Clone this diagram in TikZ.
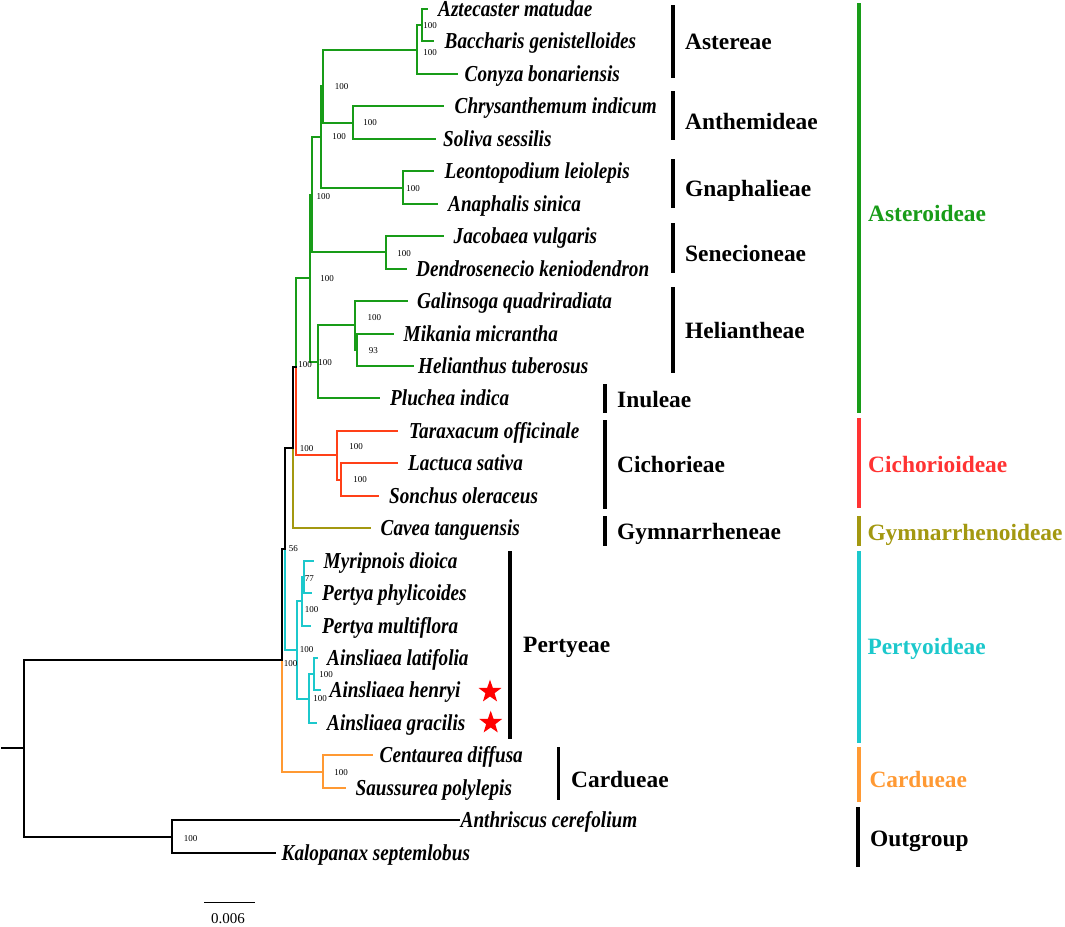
\documentclass[tikz,border=0pt]{standalone}
\usepackage{fontspec}
\setmainfont{Liberation Serif}
\newfontfamily\taxfont[FakeStretch=0.842]{Liberation Serif}
\usetikzlibrary{shapes.geometric}
\definecolor{cgreen}{RGB}{24,156,24}
\definecolor{cred}{RGB}{255,64,24}
\definecolor{credlab}{RGB}{255,51,51}
\definecolor{colive}{RGB}{163,152,16}
\definecolor{ccyan}{RGB}{28,200,204}
\definecolor{corange}{RGB}{255,153,51}
\begin{document}
\begin{tikzpicture}[x=1pt,y=-1pt,
  br/.style={line width=2pt, line cap=rect},
  taxon/.style={anchor=base west, inner sep=0pt, font=\taxfont\bfseries\itshape\fontsize{22.8}{23}\selectfont},
  tribe/.style={anchor=base west, inner sep=0pt, font=\bfseries\fontsize{23.4}{24}\selectfont},
  bs/.style={inner sep=0pt, font=\fontsize{9}{10}\selectfont},
  tbar/.style={line width=3.5pt},
  sbar/.style={line width=4.5pt},
  starmark/.style={star, star points=5, star point ratio=2.5, fill=red, draw=none, minimum size=24pt, inner sep=0pt}
]
\useasboundingbox (0,0) rectangle (1065,926);

% ---------- internal nodes ----------
\coordinate (n1) at (421.7,25.2);
\coordinate (n2) at (416.7,49.6);
\coordinate (n3) at (352.7,122.6);
\coordinate (n4) at (323.3,86.1);
\coordinate (n5) at (403.3,187.5);
\coordinate (n6) at (320.7,136.8);
\coordinate (n7) at (386,252.4);
\coordinate (n8) at (311.7,194.6);
\coordinate (n9) at (357.3,349.7);
\coordinate (n10) at (355,325.4);
\coordinate (n11) at (318.3,361.9);
\coordinate (n12) at (310,278.3);
\coordinate (n13) at (341,479.5);
\coordinate (n14) at (336.7,455.2);
\coordinate (nA) at (295.5,366.8);
\coordinate (nB) at (293,447.5);
\coordinate (n17) at (303.7,576.9);
\coordinate (n18) at (301.5,601.2);
\coordinate (n19) at (314,674.2);
\coordinate (n20) at (309.3,698.6);
\coordinate (n21) at (296.7,649.9);
\coordinate (nC) at (284.5,548.7);
\coordinate (n23) at (323.3,771.6);
\coordinate (nD) at (282,660.1);
\coordinate (n25) at (172.3,836.5);
\coordinate (root) at (24,748.3);
\coordinate (stub) at (2,748.3);

% ---------- tips ----------
\coordinate (tAzt) at (426.7,9.0);
\coordinate (tBac) at (433.3,41.45);
\coordinate (tCon) at (456.7,73.9);
\coordinate (tChr) at (443.3,106.35);
\coordinate (tSol) at (435,138.8);
\coordinate (tLeo) at (433.3,171.25);
\coordinate (tAna) at (436.7,203.7);
\coordinate (tJac) at (443.3,236.15);
\coordinate (tDen) at (406,268.6);
\coordinate (tGal) at (406.7,301.05);
\coordinate (tMik) at (392.7,333.5);
\coordinate (tHel) at (412.7,365.95);
\coordinate (tPlu) at (379.3,398.4);
\coordinate (tTar) at (397.3,430.85);
\coordinate (tLac) at (397.3,463.3);
\coordinate (tSon) at (378.3,495.75);
\coordinate (tCav) at (370,528.2);
\coordinate (tMyr) at (312.7,560.65);
\coordinate (tPPh) at (311,593.1);
\coordinate (tPMu) at (310,625.55);
\coordinate (tALa) at (316.7,658.0);
\coordinate (tAHe) at (320,690.45);
\coordinate (tAGr) at (315.7,722.9);
\coordinate (tCen) at (371.7,755.35);
\coordinate (tSau) at (344.7,787.8);
\coordinate (tAnt) at (458.8,820.25);
\coordinate (tKal) at (275,852.7);

% ---------- branches ----------
\foreach \p/\c in {nA/n12, n12/n8, n12/n11, n8/n6, n8/n7, n6/n4, n6/n5, n4/n2, n4/n3,
                   n2/n1, n2/tCon, n1/tAzt, n1/tBac, n3/tChr, n3/tSol, n5/tLeo, n5/tAna,
                   n7/tJac, n7/tDen, n11/n10, n11/tPlu, n10/tGal, n10/n9, n9/tMik, n9/tHel}
  \draw[br,cgreen] (\p) |- (\c);
\foreach \p/\c in {nA/n14, n14/tTar, n14/n13, n13/tLac, n13/tSon}
  \draw[br,cred] (\p) |- (\c);
\foreach \p/\c in {nB/tCav}
  \draw[br,colive] (\p) |- (\c);
\foreach \p/\c in {nC/n21, n21/n18, n21/n20, n18/n17, n18/tPMu, n17/tMyr, n17/tPPh,
                   n20/n19, n20/tAGr, n19/tALa, n19/tAHe}
  \draw[br,ccyan] (\p) |- (\c);
\foreach \p/\c in {nD/n23, n23/tCen, n23/tSau}
  \draw[br,corange] (\p) |- (\c);
\foreach \p/\c in {nB/nA, nC/nB, nD/nC, root/nD, root/n25, n25/tAnt, n25/tKal}
  \draw[br,black] (\p) |- (\c);
\draw[br,black] (stub) -- (root);

% ---------- taxon labels ----------
\node[taxon] (lAzt) at (438,16.5) {Aztecaster matudae};
\node[taxon] (lBac) at (444.5,48.95) {Baccharis genistelloides};
\node[taxon] (lCon) at (464.5,81.4) {Conyza bonariensis};
\node[taxon] (lChr) at (454.5,113.85) {Chrysanthemum indicum};
\node[taxon] (lSol) at (443,146.3) {Soliva sessilis};
\node[taxon] (lLeo) at (444.5,178.75) {Leontopodium leiolepis};
\node[taxon] (lAna) at (448,211.2) {Anaphalis sinica};
\node[taxon] (lJac) at (453.5,243.65) {Jacobaea vulgaris};
\node[taxon] (lDen) at (416,276.1) {Dendrosenecio keniodendron};
\node[taxon] (lGal) at (417,308.55) {Galinsoga quadriradiata};
\node[taxon] (lMik) at (403.5,341) {Mikania micrantha};
\node[taxon] (lHel) at (418,373.45) {Helianthus tuberosus};
\node[taxon] (lPlu) at (390,405.9) {Pluchea indica};
\node[taxon] (lTar) at (409,438.35) {Taraxacum officinale};
\node[taxon] (lLac) at (408,470.8) {Lactuca sativa};
\node[taxon] (lSon) at (389,503.25) {Sonchus oleraceus};
\node[taxon] (lCav) at (380.5,535.7) {Cavea tanguensis};
\node[taxon] (lMyr) at (323.5,568.15) {Myripnois dioica};
\node[taxon] (lPPh) at (322,600.6) {Pertya phylicoides};
\node[taxon] (lPMu) at (322,633.05) {Pertya multiflora};
\node[taxon] (lALa) at (327,665.5) {Ainsliaea latifolia};
\node[taxon] (lAHe) at (329.5,697.95) {Ainsliaea henryi};
\node[taxon] (lAGr) at (327,730.4) {Ainsliaea gracilis};
\node[taxon] (lCen) at (379.5,762.85) {Centaurea diffusa};
\node[taxon] (lSau) at (355.5,795.3) {Saussurea polylepis};
\node[taxon] (lAnt) at (460.5,827.75) {Anthriscus cerefolium};
\node[taxon] (lKal) at (281.5,860.2) {Kalopanax septemlobus};

\node[starmark] (s1) at (490,691.7) {};
\node[starmark] (s2) at (490.7,722.7) {};

% ---------- bootstrap values ----------
\node[bs] (b1) at (430,26) {100};
\node[bs] (b2) at (430,53) {100};
\node[bs] (b3) at (341.7,86.7) {100};
\node[bs] (b4) at (370,123) {100};
\node[bs] (b5) at (339,137) {100};
\node[bs] (b6) at (413,189) {100};
\node[bs] (b7) at (323.3,196.7) {100};
\node[bs] (b8) at (404,253.3) {100};
\node[bs] (b9) at (327,279) {100};
\node[bs] (b10) at (374.3,317.3) {100};
\node[bs] (b11) at (373.3,350.7) {93};
\node[bs] (b12) at (325,362.3) {100};
\node[bs] (b13) at (305,365) {100};
\node[bs] (b14) at (306.7,448.3) {100};
\node[bs] (b15) at (356,446.7) {100};
\node[bs] (b16) at (360,480) {100};
\node[bs] (b17) at (293.3,548.3) {56};
\node[bs] (b18) at (309.3,578.3) {77};
\node[bs] (b19) at (311.7,610) {100};
\node[bs] (b20) at (306.7,650) {100};
\node[bs] (b21) at (326,675) {100};
\node[bs] (b22) at (320,698.3) {100};
\node[bs] (b23) at (290.7,663.3) {100};
\node[bs] (b24) at (341,772.7) {100};
\node[bs] (b25) at (190.7,838.3) {100};

% ---------- tribe bars and labels ----------
\draw[tbar] (673,5) -- (673,78);
\draw[tbar] (673,91) -- (673,140);
\draw[tbar] (673,159) -- (673,208);
\draw[tbar] (673,223) -- (673,273);
\draw[tbar] (673,287) -- (673,373);
\draw[tbar] (605,384) -- (605,413);
\draw[tbar] (605,420) -- (605,509);
\draw[tbar] (605,516) -- (605,546);
\draw[tbar] (510,551) -- (510,739);
\draw[tbar] (558.3,747) -- (558.3,800);
\draw[tbar] (858,807) -- (858,867);

\node[tribe] (tr1) at (685,49.5) {Astereae};
\node[tribe] (tr2) at (685,129.5) {Anthemideae};
\node[tribe] (tr3) at (685,196) {Gnaphalieae};
\node[tribe] (tr4) at (685,261) {Senecioneae};
\node[tribe] (tr5) at (685,338) {Heliantheae};
\node[tribe] (tr6) at (617,407) {Inuleae};
\node[tribe] (tr7) at (617,472) {Cichorieae};
\node[tribe] (tr8) at (617,539) {Gymnarrheneae};
\node[tribe] (tr9) at (523,652) {Pertyeae};
\node[tribe] (tr10) at (571,787) {Cardueae};
\node[tribe] (tr11) at (870,846.3) {Outgroup};

% ---------- subfamily bars and labels ----------
\draw[sbar,cgreen] (859,3) -- (859,413);
\draw[sbar,credlab] (859,418) -- (859,508);
\draw[sbar,colive] (859,516) -- (859,546);
\draw[sbar,ccyan] (859,551) -- (859,743);
\draw[sbar,corange] (859,747) -- (859,802);

\node[tribe,text=cgreen] (sf1) at (868,221) {Asteroideae};
\node[tribe,text=credlab] (sf2) at (868,472) {Cichorioideae};
\node[tribe,text=colive] (sf3) at (867.3,540.3) {Gymnarrhenoideae};
\node[tribe,text=ccyan] (sf4) at (867.3,654) {Pertyoideae};
\node[tribe,text=corange] (sf5) at (869.3,787.3) {Cardueae};

% ---------- scale bar ----------
\coordinate (sbl) at (204,902.7);
\coordinate (sbr) at (255,902.7);
\draw[line width=1.5pt] (sbl) -- (sbr);
\node[inner sep=0pt, font=\fontsize{15}{16}\selectfont] (sbt) at (228,918.3) {0.006};
\end{tikzpicture}
\end{document}
